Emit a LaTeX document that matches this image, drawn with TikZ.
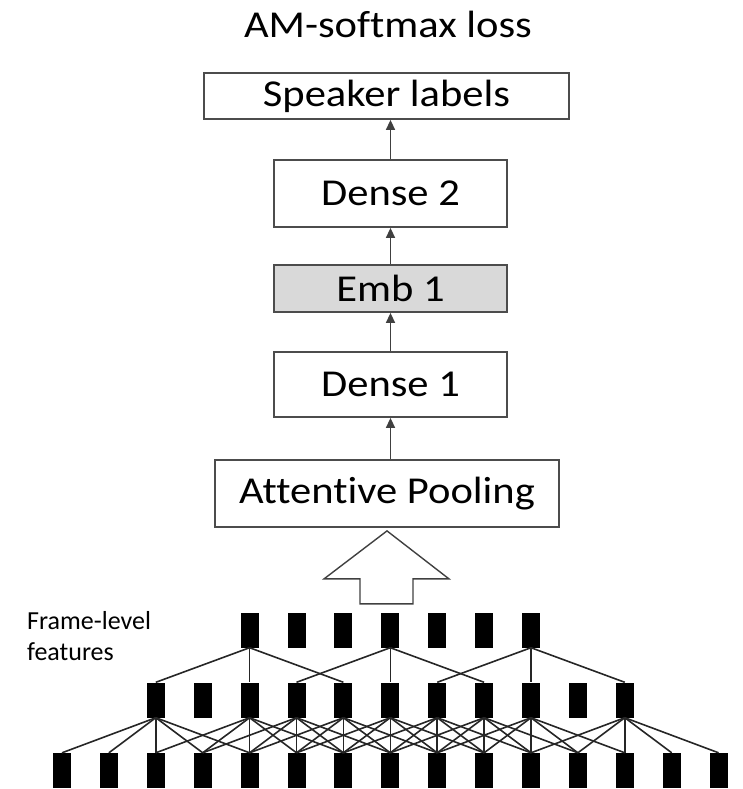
\documentclass[tikz,border=0pt]{standalone}
\usepackage{fontspec}
\setmainfont{Carlito}[Ligatures=NoCommon]
\newfontfamily\boxfont{Carlito}[FakeStretch=1.12, Ligatures=NoCommon]
\usetikzlibrary{arrows.meta}

\begin{document}
\begin{tikzpicture}[x=1pt, y=-1pt, >={Triangle[length=10pt, width=9pt]},
    layer/.style = {draw=black!70, line width=1.8pt, fill=white, inner sep=0pt,
      font=\boxfont\fontsize{38}{44}\selectfont},
    cell/.style = {fill=black, minimum width=18pt, minimum height=35pt, inner sep=0pt},
    link/.style = {black!85, line width=1.6pt},
    up/.style = {->, black!75, line width=1.5pt}]
    \useasboundingbox (0,0) rectangle (743,789);

    % Nodes
    \node[font=\boxfont\fontsize{38}{44}\selectfont, anchor=base] (title) at (388, 38) {AM-softmax loss};
    \node[layer, minimum width=365pt, minimum height=46pt] (labels) at (386.5, 96) {Speaker labels};
    \node[layer, minimum width=233pt, minimum height=67pt] (dense2) at (390.5, 193.5) {Dense 2};
    \node[layer, minimum width=233pt, minimum height=47pt, fill=black!15] (emb) at (390.5, 288.5) {Emb 1};
    \node[layer, minimum width=233pt, minimum height=65pt] (dense1) at (390.5, 384.5) {Dense 1};
    \node[layer, minimum width=344pt, minimum height=67pt] (pool) at (387, 493.5) {Attentive Pooling};

    \node[anchor=north west, align=left, inner sep=0pt, font=\fontsize{26}{31}\selectfont]
      (frames) at (27, 611) {Frame-level\\features};

    \foreach \i in {0,...,14} \node[cell] (b\i) at ({62+46.9*\i}, 770.5) {};
    \foreach \i in {2,...,12} \node[cell] (m\i) at ({62+46.9*\i}, 700) {};
    \foreach \i in {4,...,10} \node[cell] (t\i) at ({62+46.9*\i}, 630) {};

    % Edges
    \draw[up] (dense1.south |- pool.north) -- (dense1.south);
    \draw[up] (dense1) -- (emb);
    \draw[up] (emb) -- (dense2);
    \draw[up] (dense2.north) -- (dense2.north |- labels.south);

    % hollow arrow from the frames up to the pooling layer
    \draw[black!75, line width=1.4pt, line join=miter]
      (pool.south) ++(0,3) -- ++(62,48) -- ++(-36,0) -- ++(0,25) -- ++(-53,0)
      -- ++(0,-25) -- ++(-36,0) -- cycle;

    \foreach \c in {4,7,10} {
      \foreach \d in {-2,0,2} {
        \pgfmathtruncatemacro\k{\c+\d}
        \draw[link] (t\c.south) -- (m\k.north);
      }
    }
    \foreach \c in {2,4,5,6,7,8,9,10,12} {
      \foreach \d in {-2,...,2} {
        \pgfmathtruncatemacro\k{\c+\d}
        \draw[link] (m\c.south) -- (b\k.north);
      }
    }
\end{tikzpicture}
\end{document}
